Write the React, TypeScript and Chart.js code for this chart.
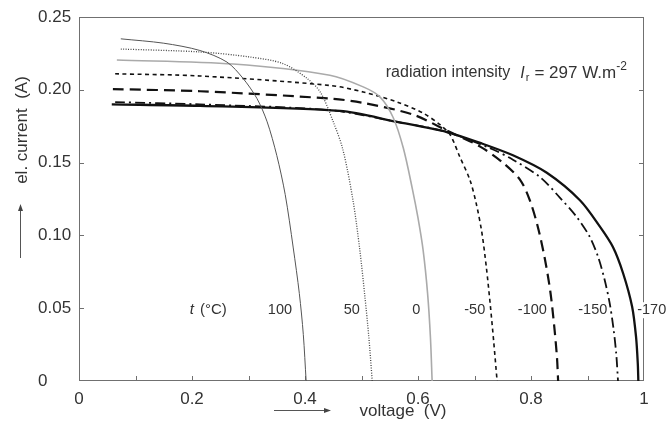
import React, { useEffect, useRef } from 'react';
import { Chart, registerables } from 'chart.js';

Chart.register(...registerables);

const FONT = '"Liberation Sans", Arial, Helvetica, sans-serif';

// Temperature series (t in °C): voltage (V) and el. current (A)
const V_100 = [0.074, 0.15, 0.214, 0.262, 0.29, 0.315, 0.333, 0.35, 0.365, 0.379, 0.39, 0.397, 0.402];
const I_100 = [0.235, 0.232, 0.227, 0.219, 0.208, 0.194, 0.178, 0.155, 0.128, 0.092, 0.06, 0.032, 0];

const V_50 = [0.074, 0.214, 0.303, 0.361, 0.403, 0.427, 0.45, 0.467, 0.485, 0.497, 0.506, 0.513, 0.519];
const I_50 = [0.228, 0.226, 0.2225, 0.218, 0.208, 0.1985, 0.178, 0.159, 0.124, 0.09, 0.058, 0.03, 0];

const V_0 = [0.067, 0.273, 0.444, 0.503, 0.533, 0.556, 0.574, 0.59, 0.6, 0.609, 0.617, 0.622, 0.625];
const I_0 = [0.2205, 0.2177, 0.21, 0.202, 0.195, 0.181, 0.16, 0.132, 0.112, 0.09, 0.06, 0.03, 0];

const V_M50 = [0.064, 0.214, 0.444, 0.503, 0.563, 0.609, 0.639, 0.657, 0.674, 0.692, 0.703, 0.713, 0.721, 0.728, 0.734, 0.74];
const I_M50 = [0.211, 0.2095, 0.203, 0.1985, 0.1916, 0.184, 0.176, 0.169, 0.154, 0.138, 0.122, 0.102, 0.078, 0.052, 0.027, 0];

const V_M100 = [0.06, 0.214, 0.444, 0.503, 0.591, 0.651, 0.71, 0.75, 0.781, 0.798, 0.812, 0.824, 0.834, 0.841, 0.846, 0.848];
const I_M100 = [0.2005, 0.199, 0.194, 0.191, 0.183, 0.172, 0.161, 0.15, 0.138, 0.124, 0.106, 0.085, 0.062, 0.038, 0.016, 0];

const V_M150 = [0.064, 0.214, 0.444, 0.563, 0.651, 0.727, 0.768, 0.816, 0.851, 0.881, 0.904, 0.919, 0.93, 0.939, 0.946, 0.951, 0.954];
const I_M150 = [0.1916, 0.19, 0.186, 0.178, 0.171, 0.16, 0.152, 0.14, 0.126, 0.1126, 0.099, 0.085, 0.07, 0.054, 0.036, 0.018, 0];

const V_M170 = [0.058, 0.214, 0.462, 0.563, 0.651, 0.71, 0.768, 0.828, 0.887, 0.922, 0.945, 0.963, 0.979, 0.986, 0.989, 0.99];
const I_M170 = [0.19, 0.189, 0.1855, 0.178, 0.171, 0.1635, 0.155, 0.143, 0.124, 0.106, 0.092, 0.074, 0.051, 0.03, 0.012, 0];

// Temperature labels placed next to curves (voltage position, current level)
const TEMP_LABELS = ['100', '50', '0', '-50', '-100', '-150', '-170'];
const TEMP_LABEL_V = [0.377, 0.497, 0.604, 0.719, 0.828, 0.935, 0.988];
const TEMP_LABEL_I = 0.05;
const T_UNIT_V = 0.196;

const RADIATION_V = 0.543;
const RADIATION_I = 0.2115;

const X_MIN = 0, X_MAX = 1, X_STEP = 0.1;
const Y_MIN = 0, Y_MAX = 0.25, Y_STEP = 0.05;

const pts = (vs: number[], is: number[]) => vs.map((v, k) => ({ x: v, y: is[k] }));

const decorPlugin = {
  id: 'decor',
  beforeDatasetsDraw(chart: any) {
    const { ctx, chartArea, scales } = chart;
    const { left, right, top, bottom } = chartArea;
    ctx.save();
    ctx.strokeStyle = '#707070';
    ctx.lineWidth = 1;
    ctx.strokeRect(left + 0.5, top + 0.5, right - left - 1, bottom - top - 1);
    ctx.beginPath();
    scales.x.ticks.forEach((t: any) => {
      if (t.value <= X_MIN + 1e-6 || t.value >= X_MAX - 1e-6) return;
      const px = Math.round(scales.x.getPixelForValue(t.value)) + 0.5;
      ctx.moveTo(px, bottom);
      ctx.lineTo(px, bottom - 5);
    });
    scales.y.ticks.forEach((t: any) => {
      if (t.value <= Y_MIN + 1e-6 || t.value >= Y_MAX - 1e-6) return;
      const py = Math.round(scales.y.getPixelForValue(t.value)) + 0.5;
      ctx.moveTo(left, py);
      ctx.lineTo(left + 5, py);
      ctx.moveTo(right, py);
      ctx.lineTo(right - 5, py);
    });
    ctx.stroke();
    ctx.restore();
  },
  afterDatasetsDraw(chart: any) {
    const { ctx, scales } = chart;
    const xs = scales.x, ys = scales.y;
    ctx.save();
    ctx.fillStyle = '#333';
    ctx.textBaseline = 'middle';
    ctx.textAlign = 'left';

    // temperature labels
    const ly = ys.getPixelForValue(TEMP_LABEL_I) + 2;
    ctx.font = `14.5px ${FONT}`;
    TEMP_LABELS.forEach((s, k) => {
      const px = xs.getPixelForValue(TEMP_LABEL_V[k]);
      const w = ctx.measureText(s).width;
      const last = k === TEMP_LABELS.length - 1;
      const x0 = last ? px : px - w;
      if (last) {
        ctx.fillStyle = '#fff';
        ctx.fillRect(x0, ly - 8, w + 1, 16);
        ctx.fillStyle = '#333';
      }
      ctx.fillText(s, x0, ly);
    });
    // t (°C)
    let tx = xs.getPixelForValue(T_UNIT_V);
    ctx.font = `italic 15px ${FONT}`;
    ctx.fillText('t', tx, ly);
    tx += ctx.measureText('t').width + 6;
    ctx.font = `15px ${FONT}`;
    ctx.fillText('(°C)', tx, ly);

    // radiation intensity
    let rx = xs.getPixelForValue(RADIATION_V);
    const ry = ys.getPixelForValue(RADIATION_I);
    ctx.font = `16px ${FONT}`;
    ctx.fillText('radiation intensity', rx, ry);
    rx += ctx.measureText('radiation intensity').width + 10;
    ctx.font = `italic 16px ${FONT}`;
    ctx.fillText('I', rx, ry);
    rx += ctx.measureText('I').width + 1;
    ctx.font = `11px ${FONT}`;
    ctx.fillText('r', rx, ry + 5);
    rx += ctx.measureText('r').width + 5;
    ctx.font = `17px ${FONT}`;
    ctx.fillText('= 297 W.m', rx, ry);
    rx += ctx.measureText('= 297 W.m').width;
    ctx.font = `12px ${FONT}`;
    ctx.fillText('-2', rx, ry - 6);

    // axis titles
    ctx.font = `17px ${FONT}`;
    ctx.textAlign = 'center';
    ctx.fillText('voltage  (V)', 403, 411);
    ctx.save();
    ctx.translate(22, 130);
    ctx.rotate(-Math.PI / 2);
    ctx.fillText('el. current  (A)', 0, 0);
    ctx.restore();

    // arrows
    ctx.strokeStyle = '#555';
    ctx.fillStyle = '#444';
    ctx.lineWidth = 1;
    ctx.beginPath();
    ctx.moveTo(20.5, 258);
    ctx.lineTo(20.5, 210);
    ctx.moveTo(274, 410.5);
    ctx.lineTo(325, 410.5);
    ctx.stroke();
    ctx.beginPath();
    ctx.moveTo(20.5, 204);
    ctx.lineTo(18, 211);
    ctx.lineTo(23, 211);
    ctx.closePath();
    ctx.moveTo(331, 410.5);
    ctx.lineTo(324, 408);
    ctx.lineTo(324, 413);
    ctx.closePath();
    ctx.fill();
    ctx.restore();
  },
};

export default function App() {
  const ref = useRef<HTMLCanvasElement | null>(null);
  useEffect(() => {
    document.body.style.margin = '0';
    const canvas = ref.current;
    if (!canvas) return;
    const base = {
      pointRadius: 0,
      pointHoverRadius: 0,
      fill: false,
      tension: 0.3,
    };
    const chart = new Chart(canvas, {
      type: 'line',
      data: {
        datasets: [
          { ...base, label: '100', data: pts(V_100, I_100), borderColor: '#555', borderWidth: 1 },
          { ...base, label: '50', data: pts(V_50, I_50), borderColor: '#444', borderWidth: 1.3, borderDash: [1, 1.5] },
          { ...base, label: '0', data: pts(V_0, I_0), borderColor: '#aaaaaa', borderWidth: 1.6 },
          { ...base, label: '-50', data: pts(V_M50, I_M50), borderColor: '#111', borderWidth: 1.6, borderDash: [4, 3.5] },
          { ...base, label: '-100', data: pts(V_M100, I_M100), borderColor: '#111', borderWidth: 2.2, borderDash: [11, 6] },
          { ...base, label: '-150', data: pts(V_M150, I_M150), borderColor: '#111', borderWidth: 1.8, borderDash: [10, 4, 2, 4] },
          { ...base, label: '-170', data: pts(V_M170, I_M170), borderColor: '#111', borderWidth: 2.3 },
        ],
      },
      options: {
        responsive: false,
        animation: false,
        parsing: false,
        normalized: true,
        events: [],
        layout: { padding: { left: 38, top: 17, right: 24, bottom: 0 } },
        plugins: { legend: { display: false }, tooltip: { enabled: false }, title: { display: false } },
        scales: {
          x: {
            type: 'linear',
            min: X_MIN,
            max: X_MAX,
            grid: { display: false, drawTicks: false },
            border: { display: false },
            ticks: {
              stepSize: X_STEP,
              autoSkip: false,
              maxRotation: 0,
              padding: 8,
              color: '#333',
              font: { family: FONT, size: 17 },
              callback: (v: any) => {
                const n = Math.round(Number(v) * 10);
                if (n % 2 !== 0) return '';
                if (n === 0) return '0';
                if (n === 10) return '1';
                return (n / 10).toFixed(1);
              },
            },
            afterFit: (s: any) => {
              s.height = 47;
              s.paddingLeft = 0;
              s.paddingRight = 0;
            },
          },
          y: {
            type: 'linear',
            min: Y_MIN,
            max: Y_MAX,
            grid: { display: false, drawTicks: false },
            border: { display: false },
            ticks: {
              stepSize: Y_STEP,
              crossAlign: 'far',
              padding: 6,
              color: '#333',
              font: { family: FONT, size: 17 },
              callback: (v: any) => {
                const n = Number(v);
                return Math.abs(n) < 1e-9 ? '0' : n.toFixed(2);
              },
            },
            afterFit: (s: any) => {
              s.width = 41;
              s.paddingTop = 0;
              s.paddingBottom = 0;
            },
          },
        },
      },
      plugins: [decorPlugin],
    });
    return () => chart.destroy();
  }, []);
  return <canvas ref={ref} width={668} height={428} style={{ display: 'block' }} />;
}
